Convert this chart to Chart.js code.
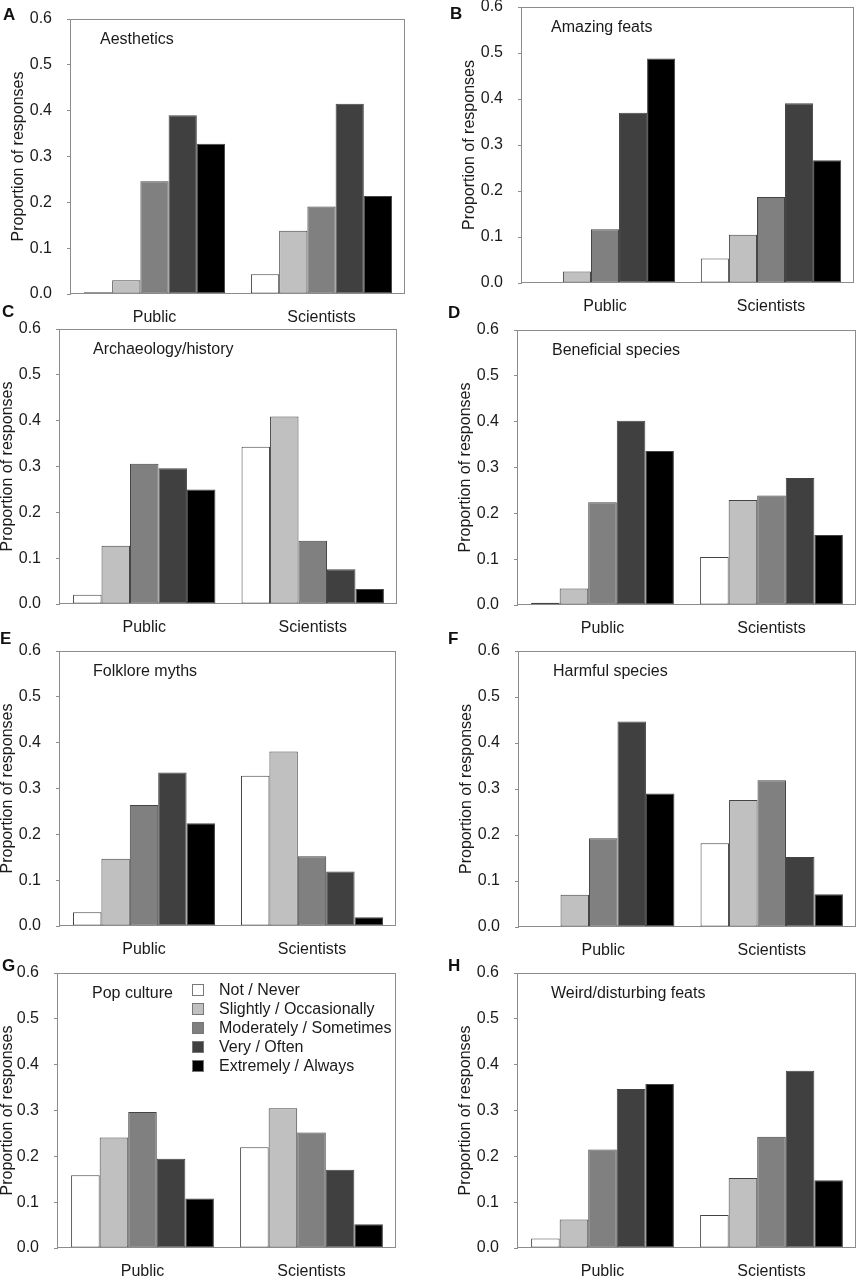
<!DOCTYPE html>
<html>
<head>
<meta charset="utf-8">
<script src="https://cdn.jsdelivr.net/npm/chart.js@4.4.1/dist/chart.umd.min.js"></script>
<style>
  body { margin: 0; background: #fff; width: 858px; height: 1277px; position: relative; overflow: hidden;
         font-family: "Liberation Sans", Arial, sans-serif; }
  .panel { position: absolute; }
  .letter { position: absolute; font-weight: bold; font-size: 17px; line-height: 17px; color: #111; }
</style>
</head>
<body>
<script>
const categories = ['Public', 'Scientists'];
const levels = ['Not / Never', 'Slightly / Occasionally', 'Moderately / Sometimes', 'Very / Often', 'Extremely / Always'];
const levelColors = ['#ffffff', '#c0c0c0', '#808080', '#404040', '#000000'];
const panelLetters = ['A', 'B', 'C', 'D', 'E', 'F', 'G', 'H'];
const panelTitles = ['Aesthetics', 'Amazing feats', 'Archaeology/history', 'Beneficial species',
                     'Folklore myths', 'Harmful species', 'Pop culture', 'Weird/disturbing feats'];
const yAxisTitle = 'Proportion of responses';

// values per level: Not, Slightly, Moderately, Very, Extremely
const aestheticsPublic     = [0.004, 0.030, 0.246, 0.390, 0.328];
const aestheticsScientists = [0.043, 0.138, 0.191, 0.415, 0.214];
const amazingPublic        = [0.000, 0.025, 0.117, 0.370, 0.488];
const amazingScientists    = [0.053, 0.105, 0.187, 0.391, 0.267];
const archaeologyPublic    = [0.020, 0.127, 0.306, 0.296, 0.250];
const archaeologyScientists= [0.343, 0.409, 0.138, 0.076, 0.033];
const beneficialPublic     = [0.005, 0.036, 0.224, 0.402, 0.336];
const beneficialScientists = [0.105, 0.229, 0.239, 0.277, 0.153];
const folklorePublic       = [0.030, 0.147, 0.264, 0.335, 0.224];
const folkloreScientists   = [0.328, 0.381, 0.152, 0.119, 0.019];
const harmfulPublic        = [0.000, 0.070, 0.193, 0.447, 0.290];
const harmfulScientists    = [0.182, 0.276, 0.319, 0.152, 0.071];
const popPublic            = [0.159, 0.241, 0.297, 0.195, 0.108];
const popScientists        = [0.220, 0.305, 0.252, 0.171, 0.052];
const weirdPublic          = [0.021, 0.062, 0.215, 0.347, 0.358];
const weirdScientists      = [0.072, 0.153, 0.243, 0.387, 0.148];

const panelData = [
  [aestheticsPublic, aestheticsScientists],
  [amazingPublic, amazingScientists],
  [archaeologyPublic, archaeologyScientists],
  [beneficialPublic, beneficialScientists],
  [folklorePublic, folkloreScientists],
  [harmfulPublic, harmfulScientists],
  [popPublic, popScientists],
  [weirdPublic, weirdScientists]
];

// layout: plot area [left, top, right, bottom], letter [x, capTop], title x offset
const layout = [
  { plot: [71, 19, 405, 294],   letter: [3, 8],     tx: 29 },
  { plot: [522, 7, 854, 283],   letter: [450, 7],   tx: 29 },
  { plot: [60, 329, 397, 604],  letter: [2, 305],   tx: 33 },
  { plot: [518, 330, 856, 605], letter: [448, 306], tx: 34 },
  { plot: [60, 651, 396, 926],  letter: [0, 632],   tx: 33 },
  { plot: [519, 651, 856, 927], letter: [448, 632], tx: 34 },
  { plot: [58, 973, 396, 1248], letter: [2, 959],   tx: 34 },
  { plot: [518, 973, 856, 1248],letter: [448, 959], tx: 33 }
];

const FONT = '"Liberation Sans", Arial, sans-serif';
const TEXT = '#1a1a1a';
const AXIS = '#8c8c8c';

const panelDecor = {
  id: 'panelDecor',
  afterDatasetsDraw(chart, args, opts) {
    const { ctx, chartArea: a } = chart;
    ctx.save();
    ctx.strokeStyle = AXIS;
    ctx.lineWidth = 1;
    ctx.strokeRect(Math.round(a.left) - 0.5, Math.round(a.top) + 0.5,
                   Math.round(a.right - a.left), Math.round(a.bottom - a.top) - 1);
    ctx.fillStyle = TEXT;
    ctx.font = '16px ' + FONT;
    ctx.textBaseline = 'alphabetic';
    ctx.fillText(opts.title, a.left + opts.tx, a.top + 25);
    if (opts.legend) {
      chart.data.datasets.forEach((ds, i) => {
        const cy = a.top + 17 + i * 19;
        const sx = a.left + 134;
        ctx.fillStyle = ds.backgroundColor;
        ctx.fillRect(sx, cy - 6, 12, 12);
        ctx.strokeStyle = '#777';
        ctx.strokeRect(sx + 0.5, cy - 5.5, 11, 11);
        ctx.fillStyle = TEXT;
        ctx.textBaseline = 'middle';
        ctx.fillText(ds.label, a.left + 161, cy + 1);
      });
    }
    ctx.restore();
  }
};

panelData.forEach((pair, p) => {
  const L = layout[p];
  const [pl, pt, pr, pb] = L.plot;
  const wrapLeft = Math.max(0, pl - 62);
  const wrapTop = pt - 28;
  const wrapRight = pr + 3;
  const wrapBottom = pb + 34;
  const yWidth = pl - wrapLeft;
  const titlePad = Math.max(0, (pl - 52 - wrapLeft) - 8);

  const letter = document.createElement('div');
  letter.className = 'letter';
  letter.textContent = panelLetters[p];
  letter.style.left = L.letter[0] + 'px';
  letter.style.top = (L.letter[1] - 2) + 'px';

  const wrap = document.createElement('div');
  wrap.className = 'panel';
  wrap.style.left = wrapLeft + 'px';
  wrap.style.top = wrapTop + 'px';
  const canvas = document.createElement('canvas');
  canvas.width = wrapRight - wrapLeft;
  canvas.height = wrapBottom - wrapTop;
  canvas.style.width = canvas.width + 'px';
  canvas.style.height = canvas.height + 'px';
  wrap.appendChild(canvas);
  document.body.appendChild(wrap);
  document.body.appendChild(letter);

  new Chart(canvas, {
    type: 'bar',
    data: {
      labels: categories,
      datasets: levels.map((lab, i) => ({
        label: lab,
        data: [pair[0][i], pair[1][i]],
        backgroundColor: levelColors[i],
        borderColor: '#444',
        borderWidth: 1,
        borderSkipped: false,
        categoryPercentage: 0.845,
        barPercentage: 1
      }))
    },
    options: {
      responsive: false,
      animation: false,
      layout: { padding: { top: pt - wrapTop, right: wrapRight - pr, bottom: 0, left: 0 } },
      plugins: {
        legend: { display: false },
        tooltip: { enabled: false },
        panelDecor: { title: panelTitles[p], tx: L.tx, legend: p === 6 }
      },
      scales: {
        x: {
          grid: { display: false, drawTicks: false },
          border: { display: false },
          ticks: { padding: 14, color: TEXT, font: { size: 16, family: FONT } },
          afterFit: s => { s.height = wrapBottom - pb; }
        },
        y: {
          min: 0,
          max: 0.6,
          ticks: { stepSize: 0.1, padding: 15, color: TEXT, font: { size: 16, family: FONT },
                   callback: v => v.toFixed(1) },
          grid: { drawOnChartArea: false, drawTicks: true, tickLength: 4, color: AXIS },
          border: { display: false },
          title: { display: true, text: yAxisTitle, color: TEXT,
                   font: { size: 16, family: FONT, lineHeight: 1 },
                   padding: { top: titlePad, bottom: 0 } },
          afterFit: s => { s.width = yWidth; }
        }
      }
    },
    plugins: [panelDecor]
  });
});
</script>
</body>
</html>
